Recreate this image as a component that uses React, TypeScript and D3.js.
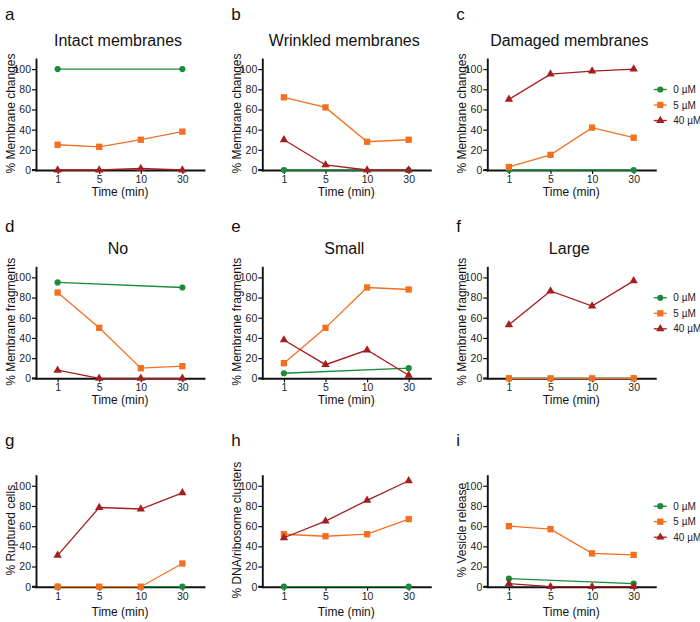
import React, { useEffect, useRef } from 'react';
import * as d3 from 'd3';

// time points (x categories) and doses (series)
const times = ['1', '5', '10', '30'];
const doses = ['0 µM', '5 µM', '40 µM'];
const yTicks = [0, 20, 40, 60, 80, 100];

const letters = ['a', 'b', 'c', 'd', 'e', 'f', 'g', 'h', 'i'];
const titles = ['Intact membranes', 'Wrinkled membranes', 'Damaged membranes', 'No', 'Small', 'Large', '', '', ''];
const yTitles = [
  '% Membrane changes', '% Membrane changes', '% Membrane changes',
  '% Membrane fragments', '% Membrane fragments', '% Membrane fragments',
  '% Ruptured cells', '% DNA/ribosome clusters', '% Vesicle release',
];

// values per panel, one entry per time point (null = not measured)
const dose0 = [
  [100, null, null, 100],
  [0, null, null, 0],
  [0, null, null, 0],
  [95, null, null, 90],
  [5, null, null, 10],
  [0, null, null, 0],
  [0, null, null, 0],
  [0, null, null, 0],
  [8, null, null, 3],
];
const dose5 = [
  [25, 23, 30, 38],
  [72, 62, 28, 30],
  [3, 15, 42, 32],
  [85, 50, 10, 12],
  [15, 50, 90, 88],
  [0, 0, 0, 0],
  [0, 0, 0, 23],
  [52, 50, 52, 67],
  [60, 57, 33, 31.5],
];
const dose40 = [
  [0, 0, 1.5, 0],
  [30, 5, 0, 0],
  [70, 95, 98, 100],
  [8, 0, 0, 0],
  [38, 13.5, 28, 3],
  [53, 86.5, 71.5, 96.5],
  [31, 78.5, 77, 93],
  [48.5, 65, 85.5, 105],
  [3, 0, 0, 0],
];

const W = 700;
const H = 622;
const FONT = '"Liberation Sans", Arial, Helvetica, sans-serif';
const colors = ['#1b8a3a', '#f37021', '#a51d1f'];
const symbols = [d3.symbolCircle, d3.symbolSquare, d3.symbolTriangle];
const symbolSizes = [30, 40, 30];

// layout of the 3x3 grid
const colX = [0, 226.3, 451.3];
const rowY = [0, 208.3, 416.7];
const letterY = [19.5, 231.5, 446];
const xTitleDy = [26, 26, 29];
const plotW = 168;
const plotH = 111;

const App = () => {
  const svgRef = useRef<SVGSVGElement>(null);

  useEffect(() => {
    const svg = d3.select(svgRef.current);
    svg.selectAll('*').remove();
    svg.append('rect').attr('width', W).attr('height', H).attr('fill', '#fff');

    const series = [dose0, dose5, dose40];

    letters.forEach((letter, i) => {
      const col = i % 3;
      const row = Math.floor(i / 3);
      const ox = colX[col] + 36;
      const oy = rowY[row] + 170;

      const x = d3.scalePoint<string>().domain(times).range([ox, ox + plotW]).padding(0.52);
      const y = d3.scaleLinear().domain([0, 110]).range([oy, oy - plotH]);

      const g = svg.append('g').style('font-family', FONT);

      // panel letter + title
      g.append('text')
        .attr('x', colX[col] + 5)
        .attr('y', letterY[row])
        .style('font-size', '17px')
        .attr('fill', '#111')
        .text(letter);

      if (titles[i]) {
        g.append('text')
          .attr('x', ox + 82)
          .attr('y', oy - 124.5)
          .attr('text-anchor', 'middle')
          .style('font-size', '16px')
          .attr('fill', '#111')
          .text(titles[i]);
      }

      // axes
      const yAxis = g.append('g')
        .attr('transform', `translate(${ox},0)`)
        .call(d3.axisLeft(y).tickValues(yTicks).tickSize(4).tickPadding(1).tickSizeOuter(0));
      const xAxis = g.append('g')
        .attr('transform', `translate(0,${oy})`)
        .call(d3.axisBottom(x).tickSize(4).tickPadding(1.5).tickSizeOuter(0));

      [yAxis, xAxis].forEach(ax => {
        ax.select('.domain').attr('stroke', '#111').attr('stroke-width', 1.9).attr('stroke-linecap', 'square');
        ax.selectAll('.tick line').attr('stroke', '#111').attr('stroke-width', 1.2);
        ax.selectAll('.tick text')
          .style('font-family', FONT)
          .style('font-size', '10.5px')
          .attr('fill', '#222');
      });
      // x axis runs a little left of the y axis, under the 0 tick
      g.append('line')
        .attr('x1', ox - 4).attr('x2', ox)
        .attr('y1', oy).attr('y2', oy)
        .attr('stroke', '#111').attr('stroke-width', 1.9);

      // axis titles
      g.append('text')
        .attr('transform', `translate(${colX[col] + 10.5},${y(56)}) rotate(-90)`)
        .attr('text-anchor', 'middle')
        .attr('dy', '0.35em')
        .style('font-size', '12px')
        .attr('fill', '#111')
        .text(yTitles[i]);

      g.append('text')
        .attr('x', ox + 84)
        .attr('y', oy + xTitleDy[row])
        .attr('text-anchor', 'middle')
        .style('font-size', '12px')
        .attr('fill', '#111')
        .text('Time (min)');

      // series: green, then orange, then red on top
      series.forEach((s, k) => {
        const pts = s[i]
          .map((v, j) => ({ t: times[j], v }))
          .filter(d => d.v !== null) as { t: string; v: number }[];

        const line = d3.line<{ t: string; v: number }>()
          .x(d => x(d.t) as number)
          .y(d => y(d.v));

        g.append('path')
          .attr('d', line(pts))
          .attr('fill', 'none')
          .attr('stroke', colors[k])
          .attr('stroke-width', 1.3);

        g.selectAll(null)
          .data(pts)
          .join('path')
          .attr('transform', d => `translate(${x(d.t)},${y(d.v)})`)
          .attr('d', d3.symbol().type(symbols[k]).size(symbolSizes[k])())
          .attr('fill', colors[k]);
      });

      // legend on the right-hand column
      if (col === 2) {
        doses.forEach((name, k) => {
          const ly = oy - 80.5 + k * 15.5;
          const lx = colX[col] + 209;
          g.append('line')
            .attr('x1', lx - 6.5).attr('x2', lx + 6.5)
            .attr('y1', ly).attr('y2', ly)
            .attr('stroke', colors[k]).attr('stroke-width', 1.3);
          g.append('path')
            .attr('transform', `translate(${lx},${ly})`)
            .attr('d', d3.symbol().type(symbols[k]).size(symbolSizes[k])())
            .attr('fill', colors[k]);
          g.append('text')
            .attr('x', colX[col] + 222)
            .attr('y', ly)
            .attr('dy', '0.35em')
            .style('font-size', '10px')
            .attr('fill', '#222')
            .text(name);
        });
      }
    });
  }, []);

  return (
    <svg
      ref={svgRef}
      width={W}
      height={H}
      style={{ position: 'absolute', left: 0, top: 0, display: 'block' }}
    />
  );
};

export default App;
